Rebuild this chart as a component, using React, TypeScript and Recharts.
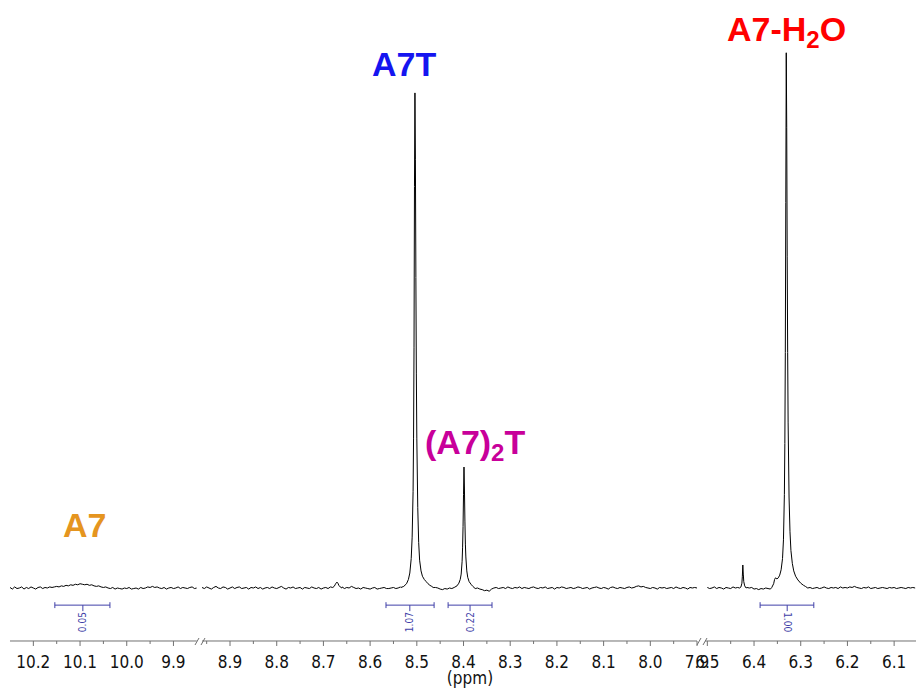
import { LineChart, Line, XAxis, YAxis, ReferenceLine, ReferenceDot } from 'recharts';

// baseline noise, sampled every 0.005 ppm from the left edge of each segment
const SEG1_START = 10.25;
const SEG1_NOISE = [
  0.1, -0.2, 0.2, -0.1, 0.0, 0.2, -0.2, 0.1, -0.1, 0.2, 0.0, -0.2, 0.1, 0.2, -0.1, 0.1, 0.0, 0.2, 0.1,
  0.2, 0.3, 0.2, 0.4, 0.3, 0.5, 0.4, 0.6, 0.5, 0.7, 0.6, 0.8, 0.7, 0.6, 0.7, 0.5, 0.6, 0.4, 0.3, 0.4, 0.2, 0.1, 0.2, 0.0,
  -0.1, 0.1, -0.2, 0.0, -0.1, -0.2, 0.0, -0.1, 0.1, -0.2, -0.1, 0.0, -0.2, 0.1, -0.1, 0.0, 0.2, 0.1, 0.3, 0.1,
  0.2, 0.0, -0.1, 0.1, -0.2, 0.0, 0.1, -0.1, 0.0, 0.2, -0.1, 0.1, 0.0, -0.1, 0.1, 0.2, -0.1, 0.0,
];

const SEG2_START = 8.96;
const SEG2_NOISE = [
  0.1, -0.1, 0.2, 0.0, -0.2, 0.1, 0.3, 0.0, -0.1, 0.2, 0.1, -0.2, 0.0, 0.2, -0.1, 0.1, 0.2, -0.1, 0.0, 0.1,
  -0.2, 0.1, 0.0, 0.2, -0.1, 0.1, -0.2, 0.0, 0.1, -0.1, 0.2, 0.0, -0.1, 0.1, 0.3, 0.0, -0.2, 0.1, 0.0, 0.2,
  -0.1, 0.0, 0.1, -0.2, 0.1, 0.0, -0.1, 0.2, 0.0, -0.1, 0.1, -0.2, 0.0, 0.1, -0.1, 0.2, 0.0, 0.1, 0.0, 0.1,
  0.2, -0.1, 0.1, 0.0, 0.3, 0.1, -0.1, 0.0, -0.2, 0.1, 0.0, -0.1, -0.2, 0.0, 0.1, -0.2, -0.1, 0.0, 0.1, -0.1,
  -0.1, 0.0, 0.1, -0.1, 0.0, 0.2, 0.1, -0.1, 0.0, 0.1, 0.2, 0.0, -0.1, 0.1, 0.0, 0.2, 0.1, 0.3, 0.2, 0.1,
  0.1, 0.0, -0.2, -0.3, -0.1, -0.2, 0.0, -0.1, 0.1, 0.0, -0.1, 0.2, 0.0, 0.1, -0.1, 0.0, 0.1, -0.1, 0.0, -0.2,
  -0.3, -0.5, -0.4, -0.6, -0.2, 0.0, 0.1, -0.1, 0.0, 0.1, -0.1, 0.2, 0.0, -0.1, 0.1, 0.0, 0.2, -0.1, 0.1, 0.0,
  -0.1, 0.1, 0.2, 0.0, -0.1, 0.1, 0.0, 0.2, -0.1, 0.0, 0.1, -0.2, 0.1, 0.0, 0.2, 0.1, -0.1, 0.0, 0.1, -0.1,
  0.0, 0.2, 0.1, -0.1, 0.0, 0.1, -0.2, 0.0, 0.1, 0.2, 0.0, -0.1, 0.1, 0.0, -0.2, 0.1, 0.2, 0.0, -0.1, 0.1,
  0.0, -0.1, 0.1, 0.2, 0.0, 0.1, 0.3, 0.4, 0.2, 0.3, 0.1, 0.0, -0.1, 0.1, 0.0, -0.2, 0.1, 0.0, 0.1, -0.1,
  0.0, 0.1, -0.1, 0.2, 0.0, -0.1, 0.1, 0.0, -0.2, 0.1, 0.0, 0.1, 0.0,
];

const SEG3_START = 6.5;
const SEG3_NOISE = [
  0.1, -0.1, 0.0, 0.2, -0.1, 0.1, 0.0, -0.2, 0.1, 0.0, -0.1, 0.2, 0.0, 0.1, -0.1, 0.0, 0.2, 0.1, 0.0, 0.1,
  -0.2, -0.1, -0.3, -0.1, -0.2, 0.0, -0.1, -0.2, 0.0, 0.1, 0.0, 0.1, 0.0, -0.1, 0.1, 0.0, 0.1, 0.2, 0.1, 0.0,
  0.3, 0.2, 0.1, 0.0, 0.1, -0.1, 0.0, 0.1, -0.1, 0.0, 0.2, 0.0, -0.1, 0.1, 0.0, 0.1, -0.1, 0.2, 0.0, 0.1,
  0.0, 0.2, 0.1, 0.3, 0.1, 0.0, -0.1, 0.1, 0.0, 0.2, -0.1, 0.0, 0.1, -0.1, 0.0, 0.1, 0.0, -0.1, 0.1, 0.0,
  0.1, -0.1, 0.0, 0.1, 0.0, -0.1, 0.1, 0.0, 0.1, 0.0,
];

// peaks: [ppm, intensity] (A7-H2O = 100)
const PEAK_8_67 = [[8.68, 0.1], [8.677, 0.3], [8.675, 0.6], [8.673, 0.9], [8.671, 1.1], [8.669, 0.9], [8.667, 0.5], [8.664, 0.2], [8.661, 0.0]];
const PEAK_A7T = [
  [8.534, 0.1], [8.528, 0.3], [8.522, 0.8], [8.518, 1.6], [8.515, 2.8], [8.512, 5.5], [8.51, 9.5], [8.508, 18],
  [8.507, 28], [8.506, 45], [8.505, 75], [8.504, 92.5], [8.503, 80], [8.502, 58], [8.501, 40], [8.5, 28],
  [8.498, 15], [8.496, 8.5], [8.494, 5.2], [8.491, 3.2], [8.488, 2.2], [8.484, 1.6], [8.48, 1.2], [8.476, 0.8],
  [8.472, 0.5], [8.468, 0.3],
];
const PEAK_A7_2T = [
  [8.42, 0.1], [8.414, 0.4], [8.41, 0.9], [8.407, 1.6], [8.405, 2.6], [8.403, 5.0], [8.402, 7.5], [8.401, 11.5],
  [8.4, 17.5], [8.399, 22.6], [8.398, 18.5], [8.397, 12.5], [8.396, 8.2], [8.395, 5.8], [8.393, 3.2], [8.391, 2.0],
  [8.388, 1.2], [8.384, 0.7], [8.38, 0.3],
];
const PEAK_6_42 = [[6.431, 0.0], [6.428, 0.2], [6.426, 0.9], [6.425, 2.2], [6.424, 4.3], [6.423, 2.6], [6.422, 1.2], [6.42, 0.4], [6.417, 0.0]];
const PEAK_H2O = [
  [6.362, 0.1], [6.358, 0.8], [6.356, 1.6], [6.354, 1.9], [6.351, 1.7], [6.348, 1.9], [6.345, 2.4], [6.342, 3.4],
  [6.339, 5.5], [6.337, 9.0], [6.335, 17.5], [6.334, 27], [6.333, 44], [6.332, 72], [6.331, 100], [6.33, 86],
  [6.329, 62], [6.328, 44], [6.327, 31], [6.325, 17], [6.323, 10.5], [6.321, 7.0], [6.318, 4.6], [6.315, 3.2],
  [6.311, 2.2], [6.306, 1.5], [6.3, 0.9], [6.294, 0.5], [6.29, 0.3],
];

// integrals: [from, to, centre]
const INT_RANGES = [[10.154, 10.036, 10.094], [8.566, 8.463, 8.515], [8.433, 8.339, 8.386], [6.387, 6.272, 6.329]];
const INT_LABELS = ['0.05', '1.07', '0.22', '1.00'];

const SEG1_TICKS = [10.2, 10.15, 10.1, 10.05, 10.0, 9.95, 9.9];
const SEG2_TICKS = [8.95, 8.9, 8.85, 8.8, 8.75, 8.7, 8.65, 8.6, 8.55, 8.5, 8.45, 8.4, 8.35, 8.3, 8.25, 8.2, 8.15, 8.1, 8.05, 8.0, 7.95, 7.9];
const SEG3_TICKS = [6.5, 6.45, 6.4, 6.35, 6.3, 6.25, 6.2, 6.15, 6.1];

const PX_PER_PPM = 467;
const STEP = 0.005;
const AXIS_COLOR = '#707070';
const INT_COLOR = '#3f3fa8';
const TICK_FONT = "'DejaVu Sans Condensed', 'DejaVu Sans', sans-serif";
const LABEL_FONT = "'Liberation Sans', Arial, sans-serif";
const Y_DOMAIN = [-9.9, 105];
const INT_Y = -3.2;

type Pt = { ppm: number; y: number };

function buildSeries(start: number, noise: number[], peaks: number[][][]): Pt[] {
  const pts: Pt[] = [];
  noise.forEach((v, i) => {
    const ppm = +(start - i * STEP).toFixed(4);
    const covered = peaks.some(p => ppm <= p[0][0] && ppm >= p[p.length - 1][0]);
    if (!covered) pts.push({ ppm, y: v });
  });
  peaks.forEach(p => p.forEach(([ppm, y]) => pts.push({ ppm, y })));
  return pts.sort((a, b) => b.ppm - a.ppm);
}

const SEGMENTS = [
  { key: 's1', domain: [9.85, 10.25], left: 10, ticks: SEG1_TICKS, data: buildSeries(SEG1_START, SEG1_NOISE, []), ints: [0] },
  { key: 's2', domain: [7.9, 8.96], left: 202, ticks: SEG2_TICKS, data: buildSeries(SEG2_START, SEG2_NOISE, [PEAK_8_67, PEAK_A7T, PEAK_A7_2T]), ints: [1, 2] },
  { key: 's3', domain: [6.053, 6.505], left: 705, ticks: SEG3_TICKS, data: buildSeries(SEG3_START, SEG3_NOISE, [PEAK_6_42, PEAK_H2O]), ints: [3] },
];

const AxisTick = (props: any) => {
  const { x, y, payload } = props;
  const v = payload.value as number;
  const major = Math.abs(v * 10 - Math.round(v * 10)) < 1e-6;
  return (
    <g>
      <line x1={x} x2={x} y1={y} y2={y + (major ? 5 : 3)} stroke={AXIS_COLOR} />
      {major && (
        <text x={x} y={y + 27} textAnchor="middle" fill="#111" fontSize={17} fontFamily={TICK_FONT} style={{ fontStretch: 'condensed' }}>
          {v.toFixed(1)}
        </text>
      )}
    </g>
  );
};

const integralMark = (label: string) => (props: any) => {
  const { cx, cy } = props;
  const up = label !== '1.00';
  return (
    <g>
      <line x1={cx} x2={cx} y1={cy} y2={cy + 6} stroke={INT_COLOR} />
      <text
        transform={`translate(${cx}, ${cy + 7}) rotate(${up ? -90 : 90})`}
        textAnchor={up ? 'end' : 'start'}
        dominantBaseline="central"
        fontSize={10}
        fontFamily={TICK_FONT}
        style={{ fontStretch: 'condensed' }}
        fill={INT_COLOR}
      >
        {label}
      </text>
    </g>
  );
};

const MARGIN = 25;

export default function App() {
  return (
    <div style={{ position: 'fixed', left: 0, top: 0, width: 916, height: 688, overflow: 'hidden', background: '#fff' }}>
      {SEGMENTS.map(seg => {
        const plotW = (seg.domain[1] - seg.domain[0]) * PX_PER_PPM;
        return (
          <div key={seg.key} style={{ position: 'absolute', left: seg.left - MARGIN, top: 0 }}>
            <LineChart width={plotW + MARGIN * 2} height={688} data={seg.data} margin={{ top: 26, right: MARGIN, bottom: 0, left: MARGIN }}>
              <XAxis
                dataKey="ppm"
                type="number"
                domain={seg.domain}
                reversed
                allowDataOverflow
                ticks={seg.ticks}
                interval={0}
                tick={<AxisTick />}
                tickLine={false}
                tickSize={0}
                tickMargin={0}
                axisLine={{ stroke: AXIS_COLOR }}
                height={47}
              />
              <YAxis hide type="number" domain={Y_DOMAIN} allowDataOverflow />
              {seg.ints.map(i => {
                const [a, b, c] = INT_RANGES[i];
                return [
                  <ReferenceLine key={`h${i}`} segment={[{ x: a, y: INT_Y }, { x: b, y: INT_Y }]} stroke={INT_COLOR} />,
                  <ReferenceLine key={`l${i}`} segment={[{ x: a, y: INT_Y - 0.55 }, { x: a, y: INT_Y + 0.55 }]} stroke={INT_COLOR} />,
                  <ReferenceLine key={`r${i}`} segment={[{ x: b, y: INT_Y - 0.55 }, { x: b, y: INT_Y + 0.55 }]} stroke={INT_COLOR} />,
                  <ReferenceDot key={`c${i}`} x={c} y={INT_Y} r={0} shape={integralMark(INT_LABELS[i])} />,
                ];
              })}
              <Line dataKey="y" type="linear" stroke="#000" strokeWidth={1} dot={false} isAnimationActive={false} />
            </LineChart>
          </div>
        );
      })}
      <svg width={916} height={688} style={{ position: 'absolute', left: 0, top: 0, pointerEvents: 'none' }}>
        <g stroke={AXIS_COLOR} strokeWidth={1}>
          <line x1={195} y1={645} x2={199} y2={638} />
          <line x1={201} y1={645} x2={205} y2={638} />
          <line x1={697} y1={645} x2={701} y2={638} />
          <line x1={703} y1={645} x2={707} y2={638} />
        </g>
        <text x={470} y={684} textAnchor="middle" fontSize={17} fontFamily={TICK_FONT} style={{ fontStretch: 'condensed' }} fill="#111">(ppm)</text>
        <g fontFamily={LABEL_FONT} fontWeight="bold" fontSize={34}>
          <text x={63} y={537} fill="#E5951F">A7</text>
          <text x={372} y={76} fill="#1515F0">A7T</text>
          <text x={425} y={454} fill="#C8009A">
            (A7)<tspan fontSize={24} dy={7}>2</tspan><tspan dy={-7}>T</tspan>
          </text>
          <text x={727} y={41} fill="#FF0000">
            A7-H<tspan fontSize={24} dy={7}>2</tspan><tspan dy={-7}>O</tspan>
          </text>
        </g>
      </svg>
    </div>
  );
}
